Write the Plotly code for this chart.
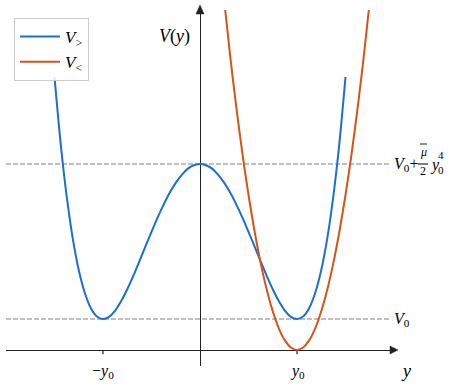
import plotly.graph_objects as go

# ---------------- data (y0 = 1 units) ----------------
y_blue = [-1.5, -1.4375, -1.375, -1.3125, -1.25, -1.1875, -1.125, -1.0625, -1.0,
          -0.9375, -0.875, -0.8125, -0.75, -0.6875, -0.625, -0.5625, -0.5,
          -0.4375, -0.375, -0.3125, -0.25, -0.1875, -0.125, -0.0625, 0.0,
          0.0625, 0.125, 0.1875, 0.25, 0.3125, 0.375, 0.4375, 0.5,
          0.5625, 0.625, 0.6875, 0.75, 0.8125, 0.875, 0.9375, 1.0,
          1.0625, 1.125, 1.1875, 1.25, 1.3125, 1.375, 1.4375, 1.5]
V_blue = [8.81, 6.69, 4.97, 3.61, 2.58, 1.84, 1.35, 1.08, 1.0,
          1.07, 1.27, 1.58, 1.96, 2.39, 2.86, 3.34, 3.81,
          4.27, 4.69, 5.07, 5.39, 5.65, 5.85, 5.96, 6.0,
          5.96, 5.85, 5.65, 5.39, 5.07, 4.69, 4.27, 3.81,
          3.34, 2.86, 2.39, 1.96, 1.58, 1.27, 1.07, 1.0,
          1.08, 1.35, 1.84, 2.58, 3.61, 4.97, 6.69, 8.81]

y_orange = [0.25, 0.3125, 0.375, 0.4375, 0.5, 0.5625, 0.625, 0.6875, 0.75, 0.8125, 0.875, 0.9375, 1.0,
            1.0625, 1.125, 1.1875, 1.25, 1.3125, 1.375, 1.4375, 1.5, 1.5625, 1.625, 1.6875, 1.75]
V_orange = [11.25, 9.45, 7.81, 6.33, 5.0, 3.83, 2.81, 1.95, 1.25, 0.70, 0.31, 0.08, 0.0,
            0.08, 0.31, 0.70, 1.25, 1.95, 2.81, 3.83, 5.0, 6.33, 7.81, 9.45, 11.25]

V0_level = 1.0
Vtop_level = 6.0
tick_pos = [-1.0, 1.0]
tick_text = ["\u2212<i>y</i><sub>0</sub>", "<i>y</i><sub>0</sub>"]
series_names = ["<i>V</i><sub>&gt;</sub>", "<i>V</i><sub>&lt;</sub>"]

# ---------------- layout geometry ----------------
W, H = 453, 385
ML, MR, MT, MB = 6, 58, 10, 19
PW = W - ML - MR
PH = H - MT - MB
X_RANGE = [-2.0, 2.0103]
Y_RANGE = [-0.516, 10.968]

def pxx(p):   # pixel x -> paper x
    return (p - ML) / PW

def pxy(q):   # pixel y -> paper y
    return (H - MB - q) / PH

def pxv(q):   # pixel y -> data V
    return Y_RANGE[1] - (q - MT) * (Y_RANGE[1] - Y_RANGE[0]) / PH

BLUE = "#1c6ed4"
ORANGE = "#d95319"
AX = "#222222"
FONT = "'Liberation Serif', 'DejaVu Serif', serif"

fig = go.Figure()

# dashed reference levels
for lev in [V0_level, Vtop_level]:
    fig.add_trace(go.Scatter(x=[X_RANGE[0], 1.96], y=[lev, lev], mode="lines",
                             line=dict(color="#808080", width=1, dash="5px,2px"),
                             showlegend=False, hoverinfo="skip"))

# tick marks on the y = 0 axis
tx, ty = [], []
for t in tick_pos:
    tx += [t, t, None]
    ty += [0, -0.14, None]
fig.add_trace(go.Scatter(x=tx, y=ty, mode="lines", line=dict(color=AX, width=1.2),
                         showlegend=False, hoverinfo="skip"))

fig.add_trace(go.Scatter(x=y_blue, y=V_blue, mode="lines", name=series_names[0],
                         line=dict(color=BLUE, width=2, shape="spline", smoothing=0.8)))
fig.add_trace(go.Scatter(x=y_orange, y=V_orange, mode="lines", name=series_names[1],
                         line=dict(color=ORANGE, width=2, shape="spline", smoothing=0.8)))

shapes = [
    # arrow head on vertical axis
    dict(type="path", xref="x", yref="paper",
         path=f"M {-4/97} {pxy(14)} L {4/97} {pxy(14)} L 0 {pxy(5)} Z",
         fillcolor=AX, line=dict(color=AX, width=0.5)),
    # arrow head on horizontal axis
    dict(type="path", xref="paper", yref="y",
         path=f"M {pxx(390)} {4/31} L {pxx(390)} {-4/31} L {pxx(398)} 0 Z",
         fillcolor=AX, line=dict(color=AX, width=0.5)),
    # fraction bar
    dict(type="line", xref="paper", yref="y", x0=pxx(418), x1=pxx(428), y0=Vtop_level, y1=Vtop_level,
         line=dict(color="black", width=1)),
    # bar over mu
    dict(type="line", xref="paper", yref="y", x0=pxx(420), x1=pxx(427), y0=pxv(144), y1=pxv(144),
         line=dict(color="black", width=0.9)),
]

f16 = dict(family=FONT, size=16, color="black")
f12 = dict(family=FONT, size=12, color="black")
f11 = dict(family=FONT, size=11, color="black")
ann = []
for t, lab in zip(tick_pos, tick_text):
    ann.append(dict(x=t, xref="x", y=pxy(371), yref="paper", text=lab, showarrow=False,
                    xanchor="center", yanchor="middle", font=f16))
ann += [
    dict(x=-0.08, xref="x", y=pxv(36), yref="y", text="<i>V</i>(<i>y</i>)", showarrow=False,
         xanchor="right", yanchor="middle", font=dict(family=FONT, size=18, color="black")),
    dict(x=pxx(406), xref="paper", y=pxy(371), yref="paper", text="<i>y</i>", showarrow=False,
         xanchor="center", yanchor="middle", font=dict(family=FONT, size=18, color="black")),
    dict(x=pxx(392), xref="paper", y=V0_level, yref="y", text="<i>V</i><sub>0</sub>", showarrow=False,
         xanchor="left", yanchor="middle", font=f16),
    dict(x=pxx(392), xref="paper", y=Vtop_level, yref="y", text="<i>V</i><sub>0</sub>+", showarrow=False,
         xanchor="left", yanchor="middle", font=f16),
    dict(x=pxx(423.5), xref="paper", y=pxv(152), yref="y", text="<i>\u03bc</i>",
         showarrow=False, xanchor="center", yanchor="middle", font=f12),
    dict(x=pxx(423), xref="paper", y=pxv(170.5), yref="y", text="2",
         showarrow=False, xanchor="center", yanchor="middle", font=f12),
    dict(x=pxx(428), xref="paper", y=pxv(165), yref="y", text="<i>y</i>",
         showarrow=False, xanchor="left", yanchor="middle", font=f16),
    dict(x=pxx(436), xref="paper", y=pxv(170), yref="y", text="0",
         showarrow=False, xanchor="left", yanchor="middle", font=f11),
    dict(x=pxx(436), xref="paper", y=pxv(155), yref="y", text="4",
         showarrow=False, xanchor="left", yanchor="middle", font=f11),
]

fig.update_layout(
    width=W, height=H, margin=dict(l=ML, r=MR, t=MT, b=MB, pad=0),
    paper_bgcolor="white", plot_bgcolor="white",
    xaxis=dict(range=X_RANGE, showgrid=False, showticklabels=False, ticks="", showline=False,
               zeroline=True, zerolinecolor=AX, zerolinewidth=1.2, fixedrange=True),
    yaxis=dict(range=Y_RANGE, showgrid=False, showticklabels=False, ticks="", showline=False,
               zeroline=True, zerolinecolor=AX, zerolinewidth=1.2, fixedrange=True),
    legend=dict(x=pxx(14), y=pxy(18), xanchor="left", yanchor="top",
                bgcolor="rgba(255,255,255,0.85)", bordercolor="#cccccc", borderwidth=1,
                font=dict(family=FONT, size=17, color="black"), itemwidth=40, tracegroupgap=0),
    shapes=shapes, annotations=ann, showlegend=True,
)

fig.write_html("out.html")
